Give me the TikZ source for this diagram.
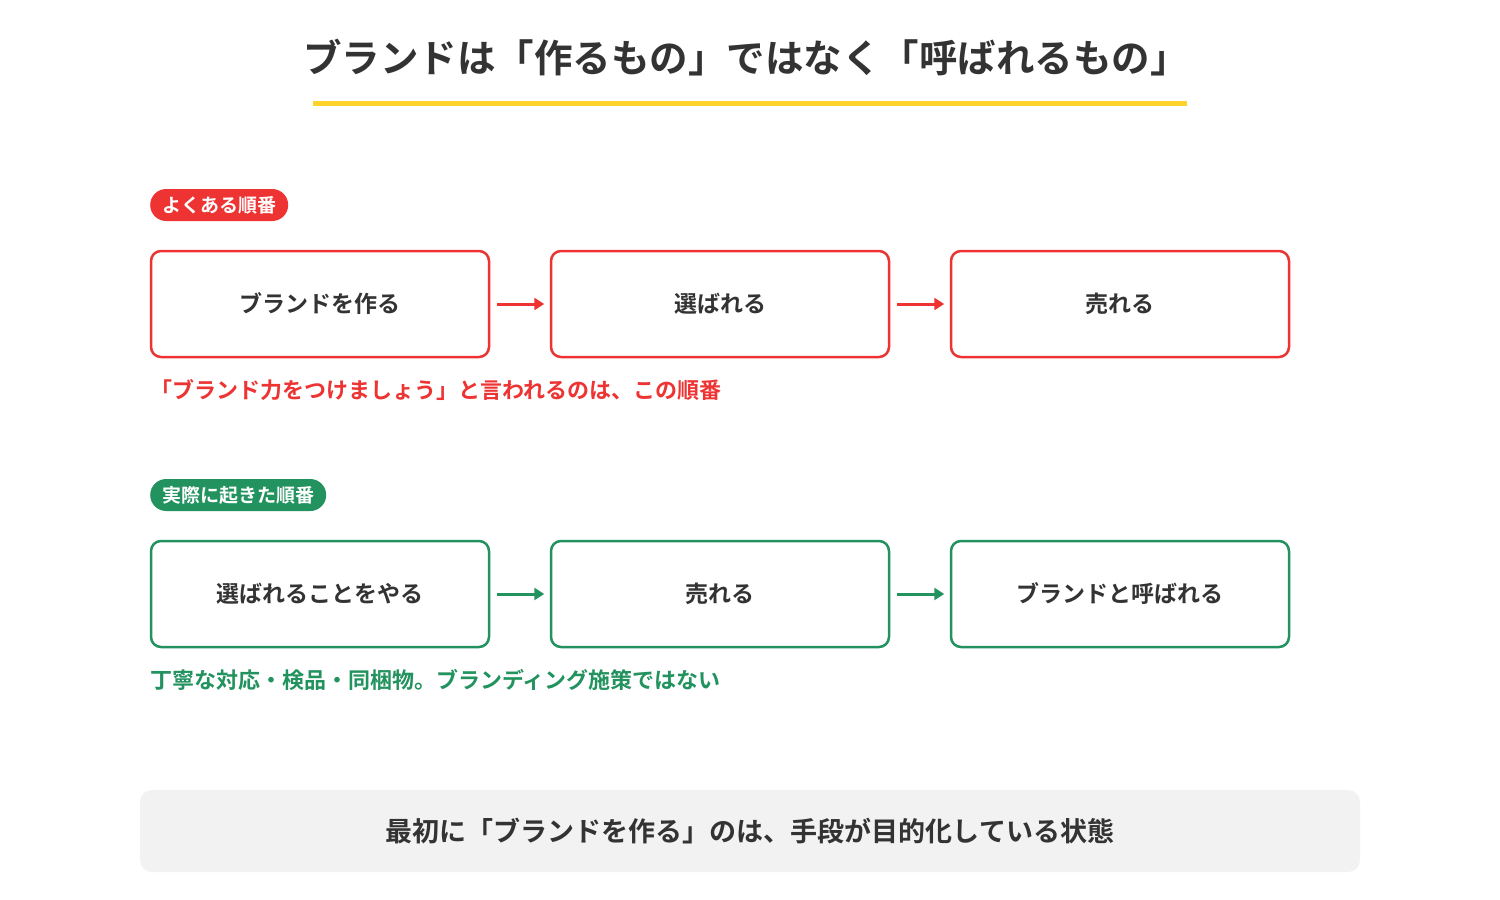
\documentclass[tikz,border=0pt]{standalone}
\usepackage{fontspec}
\setmainfont{Noto Sans CJK JP}[BoldFont={* Bold}]
\usetikzlibrary{arrows.meta}
\definecolor{myred}{HTML}{EE3333}
\definecolor{mygreen}{HTML}{22925E}
\definecolor{myyel}{HTML}{FFD42A}
\definecolor{mytxt}{HTML}{333333}
\definecolor{mygray}{HTML}{F2F2F2}
\begin{document}
\begin{tikzpicture}[x=1pt,y=-1pt,
  box/.style={draw=#1,line width=2.5pt,rounded corners=10pt,minimum width=338pt,minimum height=106pt,text=mytxt,font=\fontsize{23}{27}\selectfont\bfseries},
  tag/.style={fill=#1,rounded corners=16pt,text=white,minimum height=32pt,inner xsep=12pt,font=\fontsize{19}{22}\selectfont\bfseries,anchor=west},
  arr/.style={draw=#1,line width=3pt,-{Triangle[length=10pt,width=12pt]}},
  cap/.style={text=#1,anchor=west,inner sep=0pt,font=\fontsize{22}{26}\selectfont\bfseries}]
\useasboundingbox (0,0) rectangle (1500,900);
\fill[white] (0,0) rectangle (1500,900);
\node[text=mytxt,font=\fontsize{38.5}{46}\selectfont\bfseries] (title) at (746,58) {ブランドは「作るもの」ではなく「呼ばれるもの」};
\draw[myyel,line width=5pt] (313,103) coordinate (u1) -- (1187,103) coordinate (u2);
\node[tag=myred] (t1) at (150,205) {よくある順番};
\node[box=myred] (a1) at (320,304) {ブランドを作る};
\node[box=myred] (a2) at (720,304) {選ばれる};
\node[box=myred] (a3) at (1120,304) {売れる};
\draw[arr=myred] (a1.east) ++(7,0) coordinate (p1) -- ++(47,0);
\draw[arr=myred] (a2.east) ++(7,0) coordinate (p2) -- ++(47,0);
\node[cap=myred] (c1) at (150,390) {「ブランド力をつけましょう」と言われるのは、この順番};
\node[tag=mygreen] (t2) at (150,495) {実際に起きた順番};
\node[box=mygreen] (b1) at (320,594) {選ばれることをやる};
\node[box=mygreen] (b2) at (720,594) {売れる};
\node[box=mygreen] (b3) at (1120,594) {ブランドと呼ばれる};
\draw[arr=mygreen] (b1.east) ++(7,0) coordinate (q1) -- ++(47,0);
\draw[arr=mygreen] (b2.east) ++(7,0) coordinate (q2) -- ++(47,0);
\node[cap=mygreen] (c2) at (150,680) {丁寧な対応・検品・同梱物。ブランディング施策ではない};
\node[fill=mygray,rounded corners=12pt,minimum width=1220pt,minimum height=82pt,text=mytxt,font=\fontsize{27}{32}\selectfont\bfseries] (bot) at (750,831) {最初に「ブランドを作る」のは、手段が目的化している状態};
\end{tikzpicture}
\end{document}
